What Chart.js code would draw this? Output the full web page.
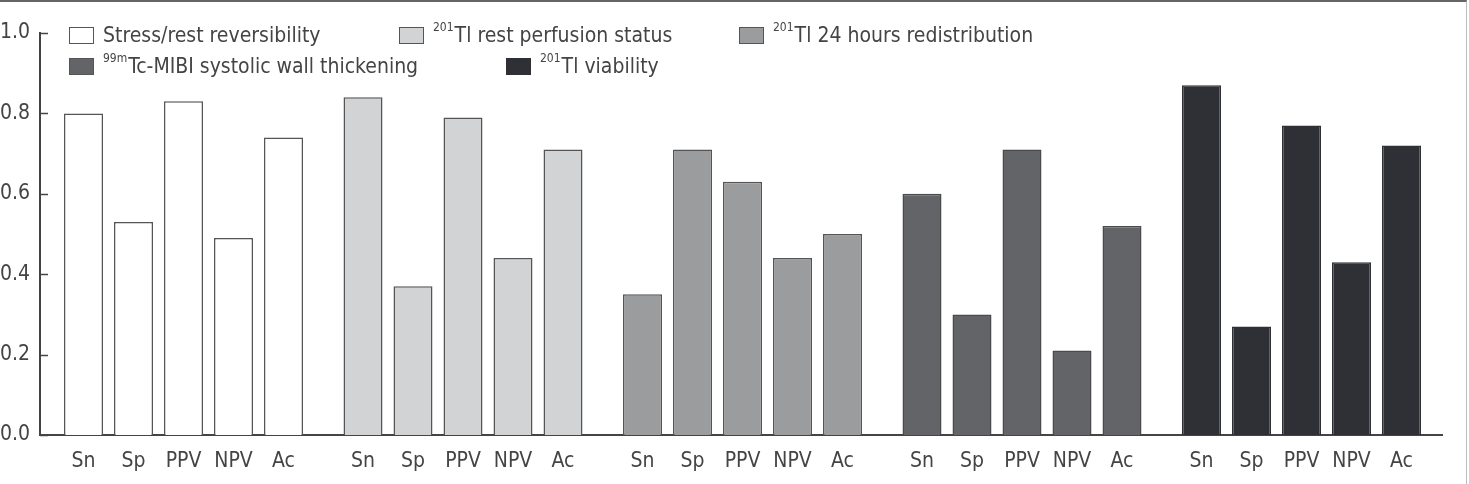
<!DOCTYPE html>
<html>
<head>
<meta charset="utf-8">
<script src="https://cdn.jsdelivr.net/npm/chart.js@4.4.1/dist/chart.umd.min.js"></script>
<style>
  html, body { margin: 0; padding: 0; background: #fff; }
  #wrap { position: relative; width: 1469px; height: 484px; overflow: hidden; }
  #frame { position: absolute; left: 0; top: 0; width: 1467px; height: 484px; box-sizing: border-box;
           border-top: 2px solid #666; border-right: 1px solid #bbb; pointer-events: none; }
  .leg { position: absolute; height: 24px; display: flex; align-items: center; white-space: nowrap;
         font: 21px 'DejaVu Sans Condensed', 'DejaVu Sans', sans-serif; color: #444; }
  .leg .box { width: 25px; height: 17px; box-sizing: border-box; border: 1.5px solid #555; margin-right: 9px; }
  .leg sup { font-size: 12px; line-height: 0; position: relative; top: -3px; margin-right: 1px; }
</style>
</head>
<body>
<div id="wrap">
  <canvas id="myChart"></canvas>
  <div id="legend"></div>
  <div id="frame"></div>
</div>
<script>
const ctx = document.getElementById('myChart');

// categories
const metrics = ['Sn', 'Sp', 'PPV', 'NPV', 'Ac'];
const groupSup = ['', '201', '201', '99m', '201'];
const groupNames = [
    'Stress/rest reversibility',
    'Tl rest perfusion status',
    'Tl 24 hours redistribution',
    'Tc-MIBI systolic wall thickening',
    'Tl viability'
];

// series values (Sn, Sp, PPV, NPV, Ac)
const stressRest = [0.80, 0.53, 0.83, 0.49, 0.74];
const tlRest = [0.84, 0.37, 0.79, 0.44, 0.71];
const tl24h = [0.35, 0.71, 0.63, 0.44, 0.50];
const mibiWall = [0.60, 0.30, 0.71, 0.21, 0.52];
const tlViability = [0.87, 0.27, 0.77, 0.43, 0.72];
const seriesValues = [stressRest, tlRest, tl24h, mibiWall, tlViability];

// y tick labels
const yTicks = [0, 0.2, 0.4, 0.6, 0.8, 1.0];

const fillColors = ['#ffffff', '#d1d3d5', '#9b9c9e', '#636467', '#2f3035'];
const edgeColors = ['#555555', '#555555', '#555555', '#4a4a4c', '#2f3035'];
const textColor = '#444';
const axisColor = '#444';
const fontFamily = "'DejaVu Sans Condensed', 'DejaVu Sans', sans-serif";

// slot of each bar on the x axis: 1 unit between bars, wider step between groups
const groupStep = 5.59;
const slot = (g, i) => g * groupStep + i;
const allSlots = seriesValues.flatMap((vals, g) => vals.map((v, i) => slot(g, i)));

// legend positions (box left, box top)
const legendPos = [[69, 27], [399, 27], [739, 27], [69, 58], [506, 58]];

function buildLegend() {
    const el = document.getElementById('legend');
    groupNames.forEach((name, g) => {
        const item = document.createElement('div');
        item.className = 'leg';
        item.style.left = legendPos[g][0] + 'px';
        item.style.top = (legendPos[g][1] - 4) + 'px';
        const box = document.createElement('span');
        box.className = 'box';
        box.style.background = fillColors[g];
        box.style.borderColor = g === 4 ? '#2f3035' : '#555';
        item.appendChild(box);
        const label = document.createElement('span');
        if (groupSup[g]) {
            const sup = document.createElement('sup');
            sup.textContent = groupSup[g];
            label.appendChild(sup);
        }
        label.appendChild(document.createTextNode(name));
        item.appendChild(label);
        el.appendChild(item);
    });
}

// small tick marks on the inner side of the y axis
const innerTicks = {
    id: 'innerTicks',
    afterDraw(chart) {
        const {ctx, scales: {y}, chartArea: {left}} = chart;
        ctx.save();
        ctx.strokeStyle = axisColor;
        ctx.lineWidth = 1.5;
        y.ticks.forEach(t => {
            const py = Math.round(y.getPixelForValue(t.value)) + 0.5;
            ctx.beginPath();
            ctx.moveTo(left, py);
            ctx.lineTo(left + 8, py);
            ctx.stroke();
        });
        ctx.restore();
    }
};

const datasets = seriesValues.map((vals, g) => ({
    label: (groupSup[g] ? groupSup[g] : '') + groupNames[g],
    data: vals.map((v, i) => ({x: slot(g, i), y: v})),
    backgroundColor: fillColors[g],
    borderColor: edgeColors[g],
    borderWidth: 1.5,
    grouped: false,
    barPercentage: 0.78,
    categoryPercentage: 1
}));

Chart.defaults.font.family = fontFamily;
Chart.defaults.font.size = 21;
Chart.defaults.color = textColor;

new Chart(ctx, {
    type: 'bar',
    data: {datasets},
    options: {
        responsive: true,
        maintainAspectRatio: false,
        animation: false,
        layout: {padding: {top: 33, right: 27, left: 0, bottom: 0}},
        plugins: {
            legend: {display: false},
            tooltip: {enabled: true}
        },
        scales: {
            x: {
                type: 'linear',
                min: -0.87,
                max: 27.17,
                offset: false,
                grid: {display: false, drawTicks: false},
                border: {display: true, color: axisColor, width: 2},
                afterBuildTicks: (scale) => {
                    scale.ticks = allSlots.map(v => ({value: v}));
                },
                afterFit: (scale) => { scale.height = 49; },
                ticks: {
                    autoSkip: false,
                    maxRotation: 0,
                    padding: 14,
                    color: textColor,
                    callback: (value, index) => metrics[index % metrics.length]
                }
            },
            y: {
                min: 0,
                max: 1,
                afterBuildTicks: (scale) => {
                    scale.ticks = yTicks.map(v => ({value: v}));
                },
                afterFit: (scale) => { scale.width = 40; },
                grid: {display: false, drawTicks: false},
                border: {display: true, color: axisColor, width: 2},
                ticks: {
                    padding: 10,
                    color: textColor,
                    callback: (value) => Number(value).toFixed(1)
                }
            }
        }
    },
    plugins: [innerTicks]
});

buildLegend();
</script>
</body>
</html>
